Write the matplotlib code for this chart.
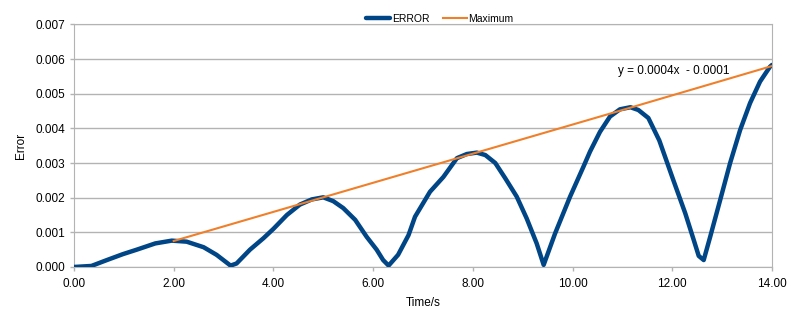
import matplotlib.pyplot as plt

plt.rcParams['font.family'] = ['Liberation Sans', 'DejaVu Sans']

# ERROR series
time_s = [0.0, 0.35, 0.66, 0.98, 1.26, 1.63, 1.96, 2.26, 2.6, 2.86, 3.14,
          3.26, 3.53, 3.8, 4.0, 4.27, 4.53, 4.77, 5.0, 5.2, 5.4, 5.64, 5.87,
          6.07, 6.2, 6.31, 6.5, 6.71, 6.84, 7.14, 7.41, 7.68, 7.88, 8.08,
          8.25, 8.45, 8.65, 8.88, 9.08, 9.28, 9.42, 9.65, 9.95, 10.22,
          10.35, 10.55, 10.75, 10.95, 11.16, 11.32, 11.52, 11.74, 12.02,
          12.26, 12.43, 12.53, 12.63, 12.76, 12.96, 13.16, 13.36, 13.56,
          13.76, 13.96, 14.0]
error = [0.0, 0.00003, 0.0002, 0.00037, 0.0005, 0.00068, 0.00076, 0.00073,
         0.00057, 0.00035, 0.00004, 0.0001, 0.0005, 0.00083, 0.0011, 0.0015,
         0.0018, 0.00195, 0.00201, 0.0019, 0.0017, 0.00136, 0.00087, 0.0005,
         0.0002, 0.00004, 0.00035, 0.00092, 0.00145, 0.00217, 0.0026,
         0.00314, 0.00326, 0.0033, 0.00323, 0.003, 0.00256, 0.00203, 0.0014,
         0.00068, 0.00006, 0.00097, 0.00203, 0.0029, 0.00333, 0.0039,
         0.00434, 0.00455, 0.00461, 0.00453, 0.0043, 0.00365, 0.00251,
         0.00155, 0.00078, 0.00032, 0.0002, 0.00087, 0.00193, 0.003,
         0.00395, 0.00473, 0.00535, 0.00578, 0.00583]

# Maximum series (peaks)
max_t = [2.0, 5.0, 8.0, 11.0, 14.0]
max_err = [0.00075, 0.00201, 0.00327, 0.00453, 0.0058]

x_ticks = [0, 2, 4, 6, 8, 10, 12, 14]
y_ticks = [0.0, 0.001, 0.002, 0.003, 0.004, 0.005, 0.006, 0.007]

grid_col = '#b3b3b3'

fig = plt.figure(figsize=(8, 3.09), dpi=100)
ax = fig.add_axes([0.0925, 0.136, 0.8725, 0.785])

ax.plot(time_s, error, color='#004586', lw=3.2, label='ERROR',
        solid_joinstyle='round', solid_capstyle='round', zorder=3)
ax.plot(max_t, max_err, color='#f07f2a', lw=1.5, label='Maximum', zorder=4)

ax.set_xlim(0, 14)
ax.set_ylim(0, 0.007)
ax.set_xticks(x_ticks)
ax.set_xticklabels(['%.2f' % v for v in x_ticks])
ax.set_yticks(y_ticks)
ax.set_yticklabels(['%.3f' % v for v in y_ticks])
ax.yaxis.grid(True, color=grid_col, lw=1)
ax.set_axisbelow(True)

for s in ax.spines.values():
    s.set_color(grid_col)
ax.tick_params(colors=grid_col, labelcolor='#000000', labelsize=8.5,
               length=3, width=1)
ax.tick_params(axis='x', pad=5)

ax.set_xlabel('Time/s', fontsize=8.5, labelpad=5)
ax.set_ylabel('Error', fontsize=8.5, labelpad=6)

ax.text(10.92, 0.00558, 'y = 0.0004x  - 0.0001', fontsize=8.5)

ax.legend(loc='lower center', bbox_to_anchor=(0.524, 0.985), ncol=2,
          frameon=False, fontsize=7.5, handlelength=2.3, handletextpad=0.15,
          columnspacing=1.3, borderaxespad=0)

fig.savefig('out.png', dpi=100)
